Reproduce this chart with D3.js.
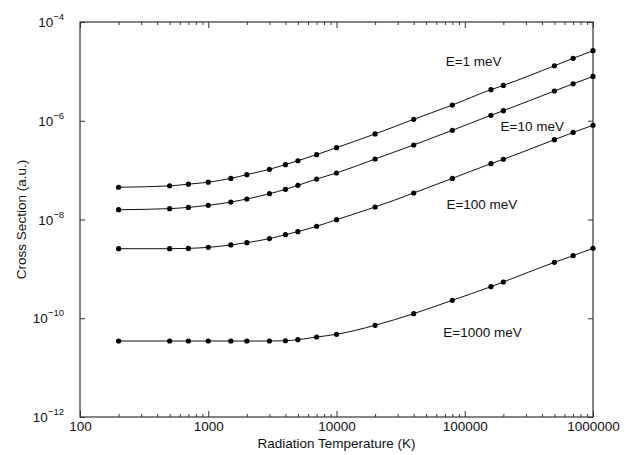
<!DOCTYPE html>
<html>
<head>
<meta charset="utf-8">
<script src="https://cdn.jsdelivr.net/npm/d3@7"></script>
<style>
body { margin: 0; background: #fff; }
text { font-family: "Liberation Sans", Arial, sans-serif; fill: #111; }
</style>
</head>
<body>
<div id="chart"></div>
<script>
var width = 634;
var height = 455;
var margin = { top: 22, right: 41, bottom: 38, left: 80 };

// radiation temperature (K)
const temps = [200, 500, 700, 1000, 1500, 2000, 3000, 4000, 5000, 7000, 10000,
	20000, 40000, 80000, 160000, 200000, 500000, 700000, 1000000];

// cross sections (a.u.) per energy
const e1 = [4.5e-8, 4.8e-8, 5.2e-8, 5.7e-8, 6.8e-8, 8.1e-8, 1.04e-7, 1.29e-7, 1.55e-7, 2.06e-7, 2.85e-7,
	5.4e-7, 1.07e-6, 2.08e-6, 4.26e-6, 5.2e-6, 1.3e-5, 1.84e-5, 2.62e-5];
const e10 = [1.58e-8, 1.66e-8, 1.76e-8, 1.94e-8, 2.25e-8, 2.6e-8, 3.33e-8, 4.08e-8, 4.92e-8, 6.6e-8, 8.75e-8,
	1.68e-7, 3.23e-7, 6.4e-7, 1.29e-6, 1.6e-6, 4.0e-6, 5.6e-6, 7.9e-6];
const e100 = [2.56e-9, 2.56e-9, 2.6e-9, 2.73e-9, 3.05e-9, 3.4e-9, 4.1e-9, 4.93e-9, 5.68e-9, 7.3e-9, 9.9e-9,
	1.79e-8, 3.44e-8, 6.8e-8, 1.35e-7, 1.66e-7, 4.14e-7, 5.8e-7, 8.1e-7];
const e1000 = [3.46e-11, 3.46e-11, 3.46e-11, 3.46e-11, 3.46e-11, 3.46e-11, 3.46e-11, 3.5e-11, 3.68e-11, 4.17e-11, 4.73e-11,
	7.2e-11, 1.24e-10, 2.31e-10, 4.36e-10, 5.42e-10, 1.36e-9, 1.85e-9, 2.61e-9];

const seriesNames = ["E=1 meV", "E=10 meV", "E=100 meV", "E=1000 meV"];
const seriesValues = [e1, e10, e100, e1000];
// label anchor (temperature, cross section) for each curve
const labelT = [71000, 190000, 72000, 68000];
const labelY = [1.29e-5, 6.2e-7, 1.63e-8, 4.17e-11];

const xTicks = [100, 1000, 10000, 100000, 1000000];
const yTicks = [-12, -10, -8, -6, -4];

var svg = d3
	.select("#chart")
	.append("svg")
	.attr("width", width)
	.attr("height", height);

var x = d3.scaleLog().domain([100, 1000000]).range([margin.left, width - margin.right]);
var y = d3.scaleLog().domain([1e-12, 1e-4]).range([height - margin.bottom, margin.top]);

// minor x ticks (2..9 in every decade)
var minor = [];
for (var d = 100; d < 1000000; d *= 10) {
	for (var k = 2; k < 10; k++) minor.push(d * k);
}

var axisColor = "#333";
var fs = 13.5;

function styleAxis(g) {
	g.select(".domain").remove();
	g.selectAll("line").attr("stroke", axisColor).attr("stroke-width", 1);
	g.selectAll("text").attr("font-size", fs).attr("fill", "#111")
		.style("font-family", '"Liberation Sans", Arial, sans-serif');
}

// bottom
svg.append("g")
	.attr("transform", "translate(0," + y.range()[0] + ")")
	.call(d3.axisBottom(x).tickValues(xTicks).tickFormat(d3.format("d")).tickSize(-6).tickPadding(4))
	.call(styleAxis);
svg.append("g")
	.attr("transform", "translate(0," + y.range()[0] + ")")
	.call(d3.axisBottom(x).tickValues(minor).tickFormat("").tickSize(-3))
	.call(styleAxis);
// top
svg.append("g")
	.attr("transform", "translate(0," + y.range()[1] + ")")
	.call(d3.axisTop(x).tickValues(xTicks).tickFormat("").tickSize(-6))
	.call(styleAxis);
svg.append("g")
	.attr("transform", "translate(0," + y.range()[1] + ")")
	.call(d3.axisTop(x).tickValues(minor).tickFormat("").tickSize(-3))
	.call(styleAxis);
// left / right
svg.append("g")
	.attr("transform", "translate(" + x.range()[0] + ",0)")
	.call(d3.axisLeft(y).tickValues(yTicks.map(e => Math.pow(10, e))).tickFormat("").tickSize(-5))
	.call(styleAxis);
svg.append("g")
	.attr("transform", "translate(" + x.range()[1] + ",0)")
	.call(d3.axisRight(y).tickValues(yTicks.map(e => Math.pow(10, e))).tickFormat("").tickSize(-5))
	.call(styleAxis);

// frame
svg.append("rect")
	.attr("x", x.range()[0])
	.attr("y", y.range()[1])
	.attr("width", x.range()[1] - x.range()[0])
	.attr("height", y.range()[0] - y.range()[1])
	.attr("fill", "none")
	.attr("stroke", axisColor)
	.attr("stroke-width", 1.2);

// y tick labels 10^n
var ylab = svg.append("g").selectAll("text")
	.data(yTicks)
	.join("text")
	.attr("x", x.range()[0] - 16)
	.attr("y", e => y(Math.pow(10, e)) + 5)
	.attr("text-anchor", "end")
	.attr("font-size", fs);
ylab.append("tspan").text("10");
ylab.append("tspan")
	.attr("dy", -7)
	.attr("font-size", 9.5)
	.text(e => "\u2212" + (-e));

// axis titles
svg.append("text")
	.attr("x", (x.range()[0] + x.range()[1]) / 2)
	.attr("y", 448)
	.attr("text-anchor", "middle")
	.attr("font-size", fs)
	.text("Radiation Temperature (K)");
svg.append("text")
	.attr("transform", "translate(26," + (y.range()[0] + y.range()[1]) / 2 + ") rotate(-90)")
	.attr("text-anchor", "middle")
	.attr("font-size", fs)
	.text("Cross Section (a.u.)");

// curves
var line = d3.line()
	.x((d, i) => x(temps[i]))
	.y(d => y(d))
	.curve(d3.curveMonotoneX);

seriesValues.forEach(function (vals, s) {
	svg.append("path")
		.attr("d", line(vals))
		.attr("fill", "none")
		.attr("stroke", "#111")
		.attr("stroke-width", 1);
	svg.append("g").selectAll("circle")
		.data(vals)
		.join("circle")
		.attr("cx", (d, i) => x(temps[i]))
		.attr("cy", d => y(d))
		.attr("r", 2.6)
		.attr("fill", "#000");
	svg.append("text")
		.attr("x", x(labelT[s]))
		.attr("y", y(labelY[s]))
		.attr("font-size", fs)
		.text(seriesNames[s]);
});
</script>
</body>
</html>
